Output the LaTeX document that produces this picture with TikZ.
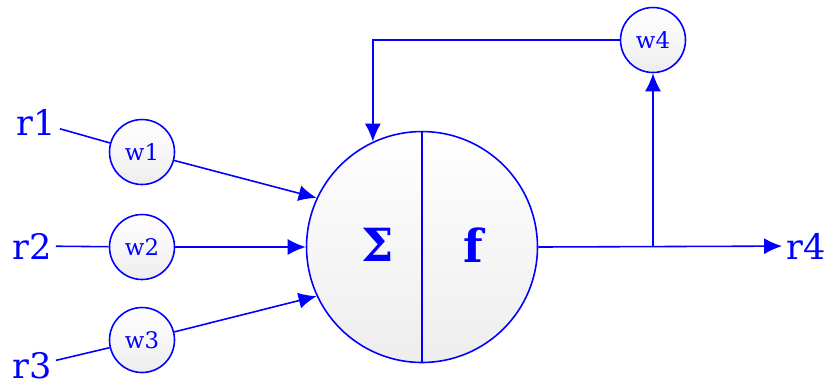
\documentclass[tikz,border=0pt]{standalone}
\usepackage{fontspec}
\setmainfont{DejaVu Serif}
\usetikzlibrary{arrows.meta, positioning, calc}

\begin{document}
\begin{tikzpicture}[x=0.02cm, y=-0.02cm, line width=0.9pt,
                    neuron/.style={circle,draw=blue,top color=white,bottom color=gray!14,
                    minimum size=4.62cm,inner sep=0pt},
                    wgt/.style={circle,draw=blue,top color=white,bottom color=gray!14,
                    minimum size=1.3cm,inner sep=0pt,text=blue,font=\fontsize{13}{15}\selectfont},
                    lbl/.style={text=blue,inner sep=2pt,font=\fontsize{20}{22}\selectfont},
                    sym/.style={text=blue,inner sep=0pt,font=\bfseries\fontsize{26}{30}\selectfont},
                    arr/.style={-{Latex[length=3.6mm,width=3.2mm]},blue},
                    wire/.style={blue}
]
\useasboundingbox (0,0) rectangle (827,387);
% neuron
\node[neuron] (neu) at (422,247) {};
\draw[wire] (neu.north) -- (neu.south);
\node[sym] (sum) at (378,245) {Σ};
\node[sym] (act) at (473,245) {f};
% inputs and weights
\node[lbl] (r1) at (36,122) {r1};
\node[lbl] (r2) at (32,246) {r2};
\node[lbl] (r3) at (32,366) {r3};
\node[wgt] (w1) at (142,152) {w1};
\node[wgt] (w2) at (142,247) {w2};
\node[wgt] (w3) at (142,340) {w3};
\draw[wire] (r1) -- (w1); \draw[wire] (r2) -- (w2); \draw[wire] (r3) -- (w3);
\draw[arr] (w1) -- (neu.155);
\draw[arr] (w2) -- (neu.west);
\draw[arr] (w3) -- (neu.205);
% output and feedback
\node[lbl] (r4) at (806,246) {r4};
\node[wgt] (w4) at (653,40) {w4};
\draw[arr] (neu.east) -- (r4);
\coordinate (br) at (w4 |- neu.east);
\draw[arr] (br) -- (w4);
\draw[arr] (w4.west) -| (neu.115);
\end{tikzpicture}
\end{document}
